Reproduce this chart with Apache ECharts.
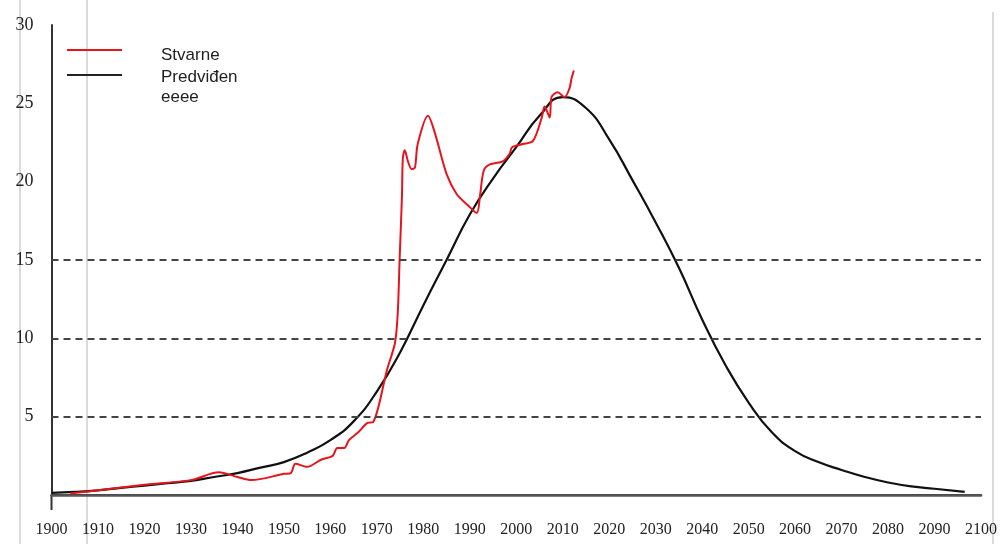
<!DOCTYPE html>
<html>
<head>
<meta charset="utf-8">
<script src="https://cdn.jsdelivr.net/npm/echarts@6/dist/echarts.min.js"></script>
<style>html,body{margin:0;padding:0;background:#fff}#c{width:1000px;height:544px}</style>
</head>
<body>
<div id="c"></div>
<script>
// Years and values
const actualYears = [1904,1910,1920,1930,1936,1940,1943,1950,1951.5,1952.5,1955,1958,1960.5,1961.5,1963,1964,1966,1968,1969.2,1972.2,1973.9,1974.5,1974.9,1975.4,1975.6,1976,1976.7,1977.5,1978.2,1978.8,1981,1982.5,1985,1987.2,1989.6,1991.5,1992.2,1993,1994.3,1997.1,1998.6,1999.1,2001.4,2003.6,2005.5,2006.1,2007.2,2007.6,2008.9,2010.4,2011.5,2011.9,2012.4];
const actualValues = [0.1,0.3,0.65,0.95,1.45,1.15,0.95,1.35,1.4,2.0,1.8,2.25,2.5,3.0,3.0,3.5,4.0,4.6,4.65,8.0,9.7,11.6,15.0,19.0,21.5,22.0,21.3,20.8,20.9,22.4,24.2,23.1,20.5,19.2,18.5,18.0,19.1,20.7,21.1,21.3,21.8,22.2,22.4,22.6,24.1,24.8,24.1,25.4,25.7,25.4,26.0,26.6,27.1];
const predictedYears = [1900,1905,1910,1915,1920,1925,1930,1935,1940,1945,1950,1955,1960,1965,1970,1975,1980,1985,1990,1995,2000,2005,2010,2015,2020,2025,2030,2035,2040,2045,2050,2055,2060,2065,2070,2075,2080,2085,2090,2096.5];
const predictedValues = [0.13,0.2,0.3,0.45,0.6,0.75,0.9,1.15,1.4,1.75,2.1,2.7,3.5,4.7,6.6,9.1,12.1,15.0,17.9,20.2,22.2,24.2,25.4,24.7,22.7,20.1,17.4,14.5,11.2,8.3,5.9,4.0,2.8,2.1,1.6,1.15,0.8,0.55,0.4,0.2];
const seriesNames = ['Stvarne', 'Predviđen eeee'];
const yMin = 0, yMax = 30, yStep = 5;
const xMin = 1900, xMax = 2100, xStep = 10;
const refLines = [5, 10, 15];

const pairs = (xs, ys) => xs.map((x, i) => [x, ys[i]]);
const chart = echarts.init(document.getElementById('c'), null, {renderer: 'canvas'});
const serif = '"Liberation Serif", "DejaVu Serif", serif';
const sans = '"Liberation Sans", Arial, sans-serif';

chart.setOption({
  backgroundColor: '#fff',
  animation: false,
  grid: {left: 51.5, right: 18.5, top: 25, bottom: 49},
  xAxis: [{
    type: 'value', min: xMin, max: xMax, interval: xStep, position: 'bottom',
    axisLine: {show: true, onZero: false, lineStyle: {color: '#333', width: 2}},
    axisTick: {show: false},
    splitLine: {show: false},
    axisLabel: {color: '#222', fontFamily: serif, fontSize: 16, margin: 27, formatter: v => String(v)}
  }, {
    type: 'value', min: xMin, max: xMax, position: 'top',
    axisLine: {show: true, lineStyle: {color: '#555', width: 2.5}},
    axisTick: {show: false}, axisLabel: {show: false}, splitLine: {show: false}
  }],
  yAxis: {
    type: 'value', min: yMin, max: yMax, interval: yStep,
    axisLine: {show: true, lineStyle: {color: '#333', width: 2}},
    axisTick: {show: false},
    splitLine: {show: false},
    axisLabel: {color: '#222', fontFamily: serif, fontSize: 18, margin: 18, padding: [6, 0, 0, 0],
      formatter: v => v === 0 ? '' : String(v)}
  },
  series: [{
    name: seriesNames[1], type: 'line', data: pairs(predictedYears, predictedValues),
    smooth: 0.5, showSymbol: false, lineStyle: {color: '#111', width: 2.2}, z: 3,
    markLine: {
      silent: true, symbol: 'none', label: {show: false},
      lineStyle: {color: '#444', width: 1.8, type: [7, 5]},
      data: refLines.map(v => ({yAxis: v}))
    }
  }, {
    name: seriesNames[0], type: 'line', data: pairs(actualYears, actualValues),
    smooth: 0.3, showSymbol: false, lineStyle: {color: '#e8141c', width: 2}, z: 4
  }],
  graphic: [
    {type: 'line', shape: {x1: 20, y1: 0, x2: 20, y2: 544}, style: {stroke: '#cfcfcf', lineWidth: 1.5}, silent: true},
    {type: 'line', shape: {x1: 87, y1: 0, x2: 87, y2: 544}, style: {stroke: '#cfcfcf', lineWidth: 1.5}, silent: true},
    {type: 'line', shape: {x1: 993, y1: 12, x2: 993, y2: 544}, style: {stroke: '#cfcfcf', lineWidth: 1.5}, silent: true},
    {type: 'line', shape: {x1: 51.5, y1: 495, x2: 51.5, y2: 510}, style: {stroke: '#333', lineWidth: 2}, silent: true},
    {type: 'line', shape: {x1: 67, y1: 50, x2: 122, y2: 50}, style: {stroke: '#e8141c', lineWidth: 2}},
    {type: 'line', shape: {x1: 67, y1: 75, x2: 122, y2: 75}, style: {stroke: '#222', lineWidth: 2}},
    {type: 'text', left: 161, top: 47, style: {text: seriesNames[0], font: '17px ' + sans, fill: '#222'}},
    {type: 'text', left: 161, top: 67, style: {text: 'Predviđen\neeee', font: '17px ' + sans, fill: '#222', lineHeight: 20}}
  ]
});
</script>
</body>
</html>
